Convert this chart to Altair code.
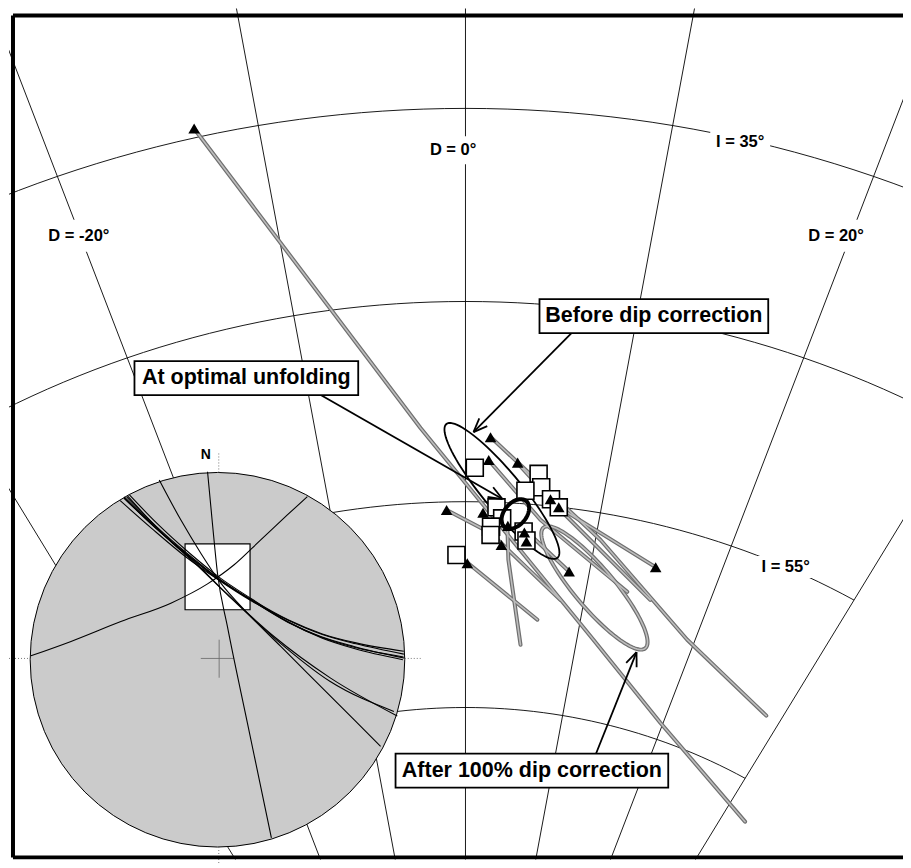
import math
import altair as alt
import pandas as pd

# ---------------- frame / scales ----------------
W, H = 895, 852
X_DOM = [-176.65, 169.31]      # equal-area units (1000*sin((90-I)/2)), east
Y_DOM = [154.19, 502.66]       # north
KX = W / (X_DOM[1] - X_DOM[0])
KY = H / (Y_DOM[1] - Y_DOM[0])
XI_DOM = [-1.1131, 3.6603]     # inset stereonet units (unit circle)
YI_DOM = [-1.0667, 3.4773]

# ---------------- grid ----------------
DECL = [-30, -20, -10, 0, 10, 20, 30]
INCL = [35, 45, 55, 65]

grid_lab_text = ["D = 0°", "I = 35°", "D = -20°", "D = 20°", "I = 55°"]
grid_lab_x = [-4.8, 106.3, -149.6, 143.4, 123.9]
grid_lab_y = [444.6, 448.1, 409.6, 409.6, 274.0]

# ---------------- data ----------------
tri_x = [-105.0, 9.7, 9.0, 20.2, -7.3, 6.8, 32.9, 36.1, 16.4, 22.8, 23.6, 13.9, 0.7, 40.1, 73.6]
tri_y = [453.5, 327.1, 317.8, 316.7, 297.3, 296.2, 301.7, 298.4, 290.8, 288.1, 284.4, 283.0, 275.5, 272.1, 273.9]

sq_x = [3.6, 28.3, 29.3, 23.2, 33.1, 36.1, 12.0, 14.2, 9.9, 9.7, 22.5, 23.6, -3.5]
sq_y = [314.6, 312.1, 306.6, 305.2, 301.7, 298.4, 298.4, 293.9, 290.5, 287.1, 288.5, 284.8, 278.9]

paths = {
    "p0": ([-105.1, -17.4, 49.5, 75.4, 108.2], [453.6, 330.9, 244.2, 210.2, 169.7]),
    "p1": ([9.7, 52.2, 85.8, 116.4], [327.2, 285.1, 244.2, 213.1]),
    "p2": ([8.9, 29.0, 62.6], [317.8, 293.3, 263.8]),
    "p3": ([-7.3, 9.7, 36.7], [297.3, 287.9, 260.5]),
    "p4": ([0.8, 27.8], [275.7, 252.4]),
    "p5": ([16.2, 16.6, 21.3], [290.8, 276.9, 242.1]),
    "p6": ([73.4, 35.9], [274.0, 298.6]),
    "p7": ([40.2, 25.1], [272.0, 287.1]),
    "p8": ([20.1, 36.7, 71.5], [316.6, 297.3, 260.5]),
}

# confidence ellipses: centre, major half-axis vector, minor half-axis vector
ell_before = dict(c=(14.1, 305.1), u=(21.5, -27.4), v=(5.7, 5.0))
ell_opt = dict(c=(19.3, 295.7), u=(4.2, 5.3), v=(3.3, -2.9))
ell_after = dict(c=(49.9, 265.4), u=(19.7, -24.7), v=(5.9, 5.3))

ann_text = ["Before dip correction", "At optimal unfolding", "After 100% dip correction"]
ann_x = [72.9, -84.8, 25.7]
ann_y = [376.7, 351.3, 190.6]
ann_box_px = [(229, 34), (224, 34), (273, 34)]
arrow_from = [(41.4, 370.1), (-56.0, 344.4), (50.5, 197.5)]
arrow_to = [(3.1, 329.2), (14.3, 301.8), (66.2, 239.1)]

# inset stereonet (unit circle coordinates)
inset_arcs = {
    "a": ([-0.996, -0.782, -0.516, -0.249, -0.053, 0.089, 0.231, 0.373, 0.48],
          [0.021, 0.098, 0.204, 0.302, 0.405, 0.507, 0.64, 0.773, 0.871]),
    "b": ([-0.053, -0.027, 0.0, 0.053, 0.16, 0.288],
          [1.004, 0.729, 0.462, 0.178, -0.338, -0.951]),
    "c1": ([-0.498, -0.338, -0.16, 0.0, 0.178, 0.373, 0.551, 0.729, 0.996],
           [0.862, 0.711, 0.56, 0.436, 0.32, 0.204, 0.124, 0.071, 0.009]),
    "c2": ([-0.52, -0.35, -0.17, 0.0, 0.18, 0.38, 0.56, 0.74, 0.995],
           [0.85, 0.70, 0.55, 0.43, 0.315, 0.21, 0.135, 0.085, 0.03]),
    "c3": ([-0.47, -0.32, -0.15, 0.01, 0.19, 0.38, 0.56, 0.73, 0.99],
           [0.88, 0.725, 0.57, 0.44, 0.32, 0.2, 0.115, 0.06, 0.0]),
    "c4": ([-0.485, -0.33, -0.155, 0.005, 0.185, 0.375, 0.555, 0.735, 0.993],
           [0.87, 0.715, 0.562, 0.435, 0.315, 0.2, 0.12, 0.065, 0.015]),
    "c5": ([-0.50, -0.34, -0.16, 0.0, 0.18, 0.38, 0.56, 0.74, 0.995],
           [0.865, 0.712, 0.558, 0.432, 0.322, 0.212, 0.138, 0.09, 0.045]),
    "d1": ([-0.311, -0.196, -0.089, 0.018, 0.16, 0.338, 0.551, 0.729, 0.871],
           [0.96, 0.747, 0.569, 0.409, 0.249, 0.071, -0.142, -0.32, -0.462]),
    "d2": ([-0.498, -0.3, -0.12, 0.053, 0.302, 0.604, 0.96],
           [0.87, 0.68, 0.52, 0.35, 0.124, -0.098, -0.30]),
    "d3": ([-0.48, -0.29, -0.11, 0.06, 0.31, 0.6, 0.942],
           [0.875, 0.67, 0.505, 0.34, 0.11, -0.115, -0.276]),
}
inset_box_u = [-0.173, 0.174]
inset_box_v = [0.267, 0.619]

FONT = "Liberation Sans"

# ---------------- helpers ----------------
def X(f="x"):
    return alt.X(f"{f}:Q", scale=alt.Scale(domain=X_DOM, nice=False, zero=False), axis=None)

def Y(f="y"):
    return alt.Y(f"{f}:Q", scale=alt.Scale(domain=Y_DOM, nice=False, zero=False), axis=None)

def XI(f="x"):
    return alt.X(f"{f}:Q", scale=alt.Scale(domain=XI_DOM, nice=False, zero=False), axis=None)

def YI(f="y"):
    return alt.Y(f"{f}:Q", scale=alt.Scale(domain=YI_DOM, nice=False, zero=False), axis=None)

def ea(d, i):
    r = 1000 * math.sin(math.radians((90 - i) / 2))
    return r * math.sin(math.radians(d)), r * math.cos(math.radians(d))

def ellipse_rows(e, name, n=90):
    rows = []
    for k in range(n + 1):
        t = 2 * math.pi * k / n
        rows.append(dict(g=name, o=k,
                         x=e["c"][0] + math.cos(t) * e["u"][0] + math.sin(t) * e["v"][0],
                         y=e["c"][1] + math.cos(t) * e["u"][1] + math.sin(t) * e["v"][1]))
    return rows

def px_box(cx, cy, w, h):
    return dict(x=cx - w / 2 / KX, x2=cx + w / 2 / KX, y=cy - h / 2 / KY, y2=cy + h / 2 / KY)

layers = []

# grid
grid_rows = []
for d in DECL:
    for k, i in enumerate([15, 89]):
        x, y = ea(d, i)
        grid_rows.append(dict(g=f"d{d}", o=k, x=x, y=y))
for i in INCL:
    for k in range(0, 61):
        d = -30 + k
        x, y = ea(d, i)
        grid_rows.append(dict(g=f"i{i}", o=k, x=x, y=y))
layers.append(alt.Chart(pd.DataFrame(grid_rows)).mark_line(color="black", strokeWidth=0.9, clip=True)
              .encode(x=X(), y=Y(), detail="g:N", order="o:Q"))

gap_px = [(52, 28), (60, 20), (64, 32), (52, 32), (60, 22)]
gap_rows = [px_box(grid_lab_x[k], grid_lab_y[k], *gap_px[k]) for k in range(5)]
layers.append(alt.Chart(pd.DataFrame(gap_rows)).mark_rect(color="white")
              .encode(x=X(), x2="x2:Q", y=Y(), y2="y2:Q"))
layers.append(alt.Chart(pd.DataFrame(dict(t=grid_lab_text, x=grid_lab_x, y=grid_lab_y)))
              .mark_text(font=FONT, fontSize=16.5, fontWeight="bold", color="black",
                         align="center", baseline="middle")
              .encode(x=X(), y=Y(), text="t:N"))

# inset stereonet
layers.append(alt.Chart(pd.DataFrame(dict(x=[0.0], y=[0.0])))
              .mark_point(shape="circle", size=375 ** 2, filled=True, fill="#cbcbcb",
                          stroke="black", strokeWidth=1, opacity=1)
              .encode(x=XI(), y=YI()))
layers.append(alt.Chart(pd.DataFrame(dict(x=[inset_box_u[0]], x2=[inset_box_u[1]],
                                          y=[inset_box_v[0]], y2=[inset_box_v[1]])))
              .mark_rect(fill="white")
              .encode(x=XI(), x2="x2:Q", y=YI(), y2="y2:Q"))
tick_rows = [dict(x=0.007, x2=0.007, y=1.0, y2=1.104), dict(x=0.007, x2=0.007, y=-1.0, y2=-1.09),
             dict(x=-1.113, x2=-1.0, y=0.007, y2=0.007), dict(x=1.0, x2=1.085, y=0.007, y2=0.007)]
layers.append(alt.Chart(pd.DataFrame(tick_rows)).mark_rule(color="#777777", strokeWidth=1, strokeDash=[1, 2])
              .encode(x=XI(), x2="x2:Q", y=YI(), y2="y2:Q"))
cross_rows = [dict(x=-0.089, x2=0.088, y=0.007, y2=0.007), dict(x=0.009, x2=0.009, y=-0.096, y2=0.107)]
layers.append(alt.Chart(pd.DataFrame(cross_rows)).mark_rule(color="#666666", strokeWidth=0.8)
              .encode(x=XI(), x2="x2:Q", y=YI(), y2="y2:Q"))
arc_rows = []
for name, (us, vs) in inset_arcs.items():
    for k, (u, v) in enumerate(zip(us, vs)):
        arc_rows.append(dict(g=name, o=k, x=u, y=v))
layers.append(alt.Chart(pd.DataFrame(arc_rows)).mark_line(color="black", strokeWidth=1.1, interpolate="monotone")
              .encode(x=XI(), y=YI(), detail="g:N", order="o:Q"))
layers.append(alt.Chart(pd.DataFrame(dict(x=[inset_box_u[0]], x2=[inset_box_u[1]],
                                          y=[inset_box_v[0]], y2=[inset_box_v[1]])))
              .mark_rect(fill=None, stroke="black", strokeWidth=1.2)
              .encode(x=XI(), x2="x2:Q", y=YI(), y2="y2:Q"))
layers.append(alt.Chart(pd.DataFrame(dict(t=["N"], x=[-0.062], y=[1.093])))
              .mark_text(font=FONT, fontSize=14, fontWeight="bold", align="center", baseline="middle")
              .encode(x=XI(), y=YI(), text="t:N"))

# gray unfolding paths + after-correction ellipse
path_rows = []
for name, (xs, ys) in paths.items():
    for k, (x, y) in enumerate(zip(xs, ys)):
        path_rows.append(dict(g=name, o=k, x=x, y=y))
path_rows += ellipse_rows(ell_after, "after")
pdf = pd.DataFrame(path_rows)
layers.append(alt.Chart(pdf).mark_line(color="#6f6f6f", strokeWidth=4, strokeCap="round", strokeJoin="round")
              .encode(x=X(), y=Y(), detail="g:N", order="o:Q"))
layers.append(alt.Chart(pdf).mark_line(color="#bdbdbd", strokeWidth=1.6, strokeCap="round", strokeJoin="round")
              .encode(x=X(), y=Y(), detail="g:N", order="o:Q"))

# before-correction ellipse
layers.append(alt.Chart(pd.DataFrame(ellipse_rows(ell_before, "before"))).mark_line(color="black", strokeWidth=1.8)
              .encode(x=X(), y=Y(), detail="g:N", order="o:Q"))

# squares (optimal unfolding)
layers.append(alt.Chart(pd.DataFrame(dict(x=sq_x, y=sq_y)))
              .mark_point(shape="square", size=289, filled=True, fill="white", stroke="black",
                          strokeWidth=1.6, opacity=1)
              .encode(x=X(), y=Y()))

# optimal ellipse (thick)
layers.append(alt.Chart(pd.DataFrame(ellipse_rows(ell_opt, "opt"))).mark_line(color="black", strokeWidth=4)
              .encode(x=X(), y=Y(), detail="g:N", order="o:Q"))

# triangles (in situ)
layers.append(alt.Chart(pd.DataFrame(dict(x=tri_x, y=tri_y)))
              .mark_point(shape="triangle-up", size=135, filled=True, color="black", opacity=1)
              .encode(x=X(), y=Y()))

# arrows
arrow_rows = []
for k, ((x1, y1), (x2, y2)) in enumerate(zip(arrow_from, arrow_to)):
    arrow_rows.append(dict(x=x1, y=y1, x2=x2, y2=y2))
    dx, dy = (x2 - x1) * KX, -(y2 - y1) * KY
    L = math.hypot(dx, dy)
    ux, uy = -dx / L, -dy / L
    for s in (1, -1):
        a = math.radians(22) * s
        ax = (ux * math.cos(a) - uy * math.sin(a)) * 15
        ay = (ux * math.sin(a) + uy * math.cos(a)) * 15
        arrow_rows.append(dict(x=x2, y=y2, x2=x2 + ax / KX, y2=y2 - ay / KY))
layers.append(alt.Chart(pd.DataFrame(arrow_rows)).mark_rule(color="black", strokeWidth=1.8)
              .encode(x=X(), x2="x2:Q", y=Y(), y2="y2:Q"))

# annotation boxes
box_rows = [px_box(ann_x[k], ann_y[k], *ann_box_px[k]) for k in range(3)]
layers.append(alt.Chart(pd.DataFrame(box_rows)).mark_rect(fill="white", stroke="black", strokeWidth=1.8)
              .encode(x=X(), x2="x2:Q", y=Y(), y2="y2:Q"))
layers.append(alt.Chart(pd.DataFrame(dict(t=ann_text, x=ann_x, y=ann_y)))
              .mark_text(font=FONT, fontSize=21.5, fontWeight="bold", color="black",
                         align="center", baseline="middle")
              .encode(x=X(), y=Y(), text="t:N"))

# frame (top, left, bottom)
fx0 = (12 - 465) / 2.587
fy_top = (1237 - 15) / 2.445
fy_bot = (1237 - 858) / 2.445
frame_rows = [dict(x=fx0, x2=X_DOM[1] + 5, y=fy_top, y2=fy_top),
              dict(x=fx0, x2=fx0, y=fy_bot, y2=fy_top),
              dict(x=fx0, x2=X_DOM[1] + 5, y=fy_bot, y2=fy_bot)]
layers.append(alt.Chart(pd.DataFrame(frame_rows)).mark_rule(color="black", strokeWidth=4, clip=True)
              .encode(x=X(), x2="x2:Q", y=Y(), y2="y2:Q"))

chart = (alt.layer(*layers)
         .resolve_scale(x="independent", y="independent")
         .properties(width=W, height=H, padding=0, background="white")
         .configure_view(stroke=None))

chart.save("out.html", embed_options={"renderer": "svg", "actions": False})
